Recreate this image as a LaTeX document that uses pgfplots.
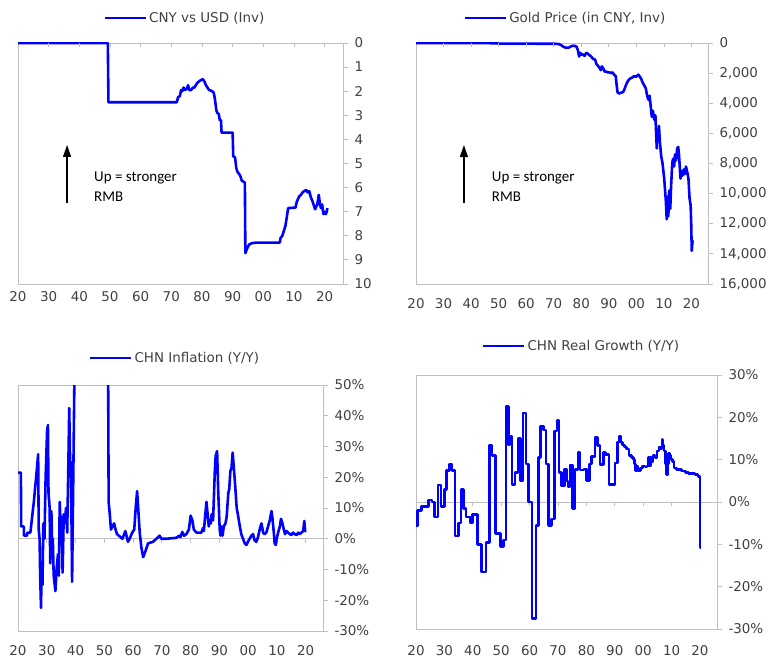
\documentclass[border=0pt]{standalone}
\usepackage{fontspec}
\setmainfont{DejaVu Sans}
\newfontfamily\calfont{Carlito}
\usepackage{pgfplots}
\pgfplotsset{compat=1.18}
\usetikzlibrary{arrows.meta}
\definecolor{txt}{HTML}{404040}
\definecolor{frm}{HTML}{BFBFBF}
\pgfplotsset{
  base/.style={
    scale only axis,
    anchor=south west,
    xmin=1920, xmax=2026,
    axis line style={frm, line width=0.8pt},
    xtick={1920,1930,...,2020},
    xticklabels={20,30,40,50,60,70,80,90,00,10,20},
    x tick style={draw=none},
    y tick style={frm, line width=0.8pt},
    ytick pos=right, yticklabel pos=right,
    tick align=outside,
    major tick length=5bp,
    scaled y ticks=false,
    ticklabel style={font=\fontsize{13.5}{16}\selectfont, text=txt},
    yticklabel style={xshift=3bp},
    legend style={draw=none, fill=none, font=\fontsize{13.5}{16}\selectfont, text=txt,
      at={(0.5,1)}, anchor=center},
    legend image code/.code={\draw[blue, line width=2.6pt] (0bp,0bp) -- (41bp,0bp);},
  },
  ser/.style={blue, line width=2.6pt, line join=round, mark=none},
}
\begin{document}
\begin{tikzpicture}
\path[use as bounding box] (0,0) rectangle (772bp,660bp);

% ---------------- Panel 1: CNY vs USD (Inv)
\begin{axis}[base, at={(18bp,376bp)}, width=325bp, height=241bp,
  ymin=0, ymax=10, y dir=reverse,
  ytick={0,1,...,10}, yticklabels={0,1,2,3,4,5,6,7,8,9,10},
  xticklabel style={yshift=1bp},
  legend style={yshift=25bp, xshift=4.5bp}]
\addplot[ser] coordinates {
(1920,0) (1949.3,0) (1949.5,2.46) (1971.8,2.46) (1972.2,2.25) (1972.8,2.2) (1973.2,1.95)
(1973.6,2.0) (1974.0,1.85) (1974.5,1.95) (1975,1.9) (1975.5,1.75) (1975.8,1.95) (1976.5,1.95)
(1977,1.85) (1977.5,1.85) (1978,1.75) (1978.5,1.65) (1979,1.6) (1979.5,1.55) (1980.3,1.5)
(1980.8,1.6) (1981.3,1.75) (1981.8,1.85) (1982.3,1.95) (1983,1.98) (1983.8,2.05) (1984.2,2.3)
(1984.7,2.8) (1985,2.9) (1985.5,2.95) (1985.8,3.2) (1986.2,3.2) (1986.4,3.72) (1990.0,3.72)
(1990.2,4.7) (1990.8,4.75) (1991.2,5.2) (1991.6,5.35) (1992.2,5.45) (1992.6,5.55) (1993.0,5.72)
(1993.5,5.75) (1994.0,5.8) (1994.15,8.72) (1994.5,8.6) (1995,8.45) (1995.5,8.35) (1996.5,8.3)
(1998,8.28) (2005.4,8.28) (2005.6,8.1) (2006.2,8.0) (2006.7,7.8) (2007.2,7.6) (2007.7,7.2)
(2008.1,6.85) (2010.5,6.83) (2010.9,6.6) (2011.4,6.45) (2011.8,6.35) (2012.3,6.3) (2012.8,6.2)
(2013.3,6.15) (2014.0,6.1) (2014.5,6.2) (2015.0,6.15) (2015.5,6.4) (2016.0,6.55) (2016.4,6.7)
(2016.9,6.9) (2017.2,6.8) (2017.6,6.7) (2018.1,6.3) (2018.5,6.7) (2018.8,6.85) (2019.2,6.7)
(2019.6,7.1) (2019.9,7.0) (2020.1,7.05) (2020.4,7.1) (2020.7,7.0) (2020.9,6.85)
};
\addlegendentry{CNY vs USD (Inv)}
\pgfplotsinvokeforeach{1930,1940,...,2020}{\draw[frm, line width=0.8pt] (axis cs:#1,0) -- (axis cs:#1,0.166);}
\draw[black, line width=1.2pt, -{Triangle[width=8bp,length=12bp]}] (axis cs:1936,6.64) -- (axis cs:1936,4.23);
\node[anchor=west, align=left, inner sep=0pt, font=\calfont\fontsize{15}{20}\selectfont] at (axis cs:1944.8,5.98) {Up = stronger\\RMB};
\end{axis}

% ---------------- Panel 2: Gold Price (in CNY, Inv)
\begin{axis}[base, at={(416bp,376bp)}, width=292bp, height=241bp,
  ymin=0, ymax=16000, y dir=reverse,
  ytick={0,2000,...,16000},
  yticklabels={0,{2,000},{4,000},{6,000},{8,000},{10,000},{12,000},{14,000},{16,000}},
  xticklabel style={yshift=-6bp},
  legend style={yshift=25bp, xshift=3.5bp}]
\addplot[ser] coordinates {
(1920,5) (1930,5) (1940,10) (1949,15) (1950,40) (1960,45) (1970,50) (1971.5,60) (1972.5,120)
(1973.5,250) (1974.5,320) (1975.5,300) (1976.5,200) (1977.5,180) (1978.3,250) (1978.8,500)
(1979.2,900) (1979.6,650) (1980.1,800) (1980.6,750) (1981.2,850) (1981.8,650) (1982.3,700)
(1982.9,800) (1983.6,900) (1984.2,1050) (1985.0,1100) (1985.5,1400) (1986.0,1500) (1986.6,1650)
(1987.1,1800) (1987.5,1550) (1988.0,1700) (1988.5,1900) (1989.0,1900) (1989.6,1950) (1990.3,1950)
(1990.7,2000) (1991.3,1950) (1991.9,2100) (1992.5,2200) (1992.9,2900) (1993.2,3300) (1993.8,3350)
(1994.5,3300) (1995.2,3250) (1995.6,3100) (1996.2,2800) (1996.7,2600) (1997.2,2450) (1997.8,2350)
(1998.4,2300) (1999.2,2200) (1999.8,2250) (2000.7,2100) (2001.3,2250) (2001.8,2400) (2002.2,2600)
(2002.8,2800) (2003.4,3000) (2003.8,3400) (2004.2,3700) (2004.6,3800) (2004.8,3500) (2005.2,4200)
(2005.6,4900) (2006.0,4500) (2006.5,5100) (2006.9,4800) (2007.4,7000) (2007.6,5800) (2007.9,6300)
(2008.2,5500) (2008.5,6500) (2009.0,7500) (2009.5,8000) (2010.1,9000) (2010.7,10500) (2011.0,11700)
(2011.3,10200) (2011.6,11500) (2011.9,9800) (2012.3,11000) (2012.6,9500) (2013.0,8000) (2013.3,7700)
(2013.7,8200) (2014.0,7400) (2014.4,7800) (2014.8,7000) (2015.2,6900) (2015.5,7500) (2016.0,9000)
(2016.4,8500) (2016.8,8800) (2017.2,8400) (2017.6,8700) (2018.0,8200) (2018.5,8600) (2018.9,9000)
(2019.3,10300) (2019.7,10800) (2019.9,12000) (2020.1,13800) (2020.4,13100)
};
\addlegendentry{Gold Price (in CNY, Inv)}
\pgfplotsinvokeforeach{1930,1940,...,2020}{\draw[frm, line width=0.8pt] (axis cs:#1,0) -- (axis cs:#1,265);}
\draw[black, line width=1.2pt, -{Triangle[width=8bp,length=12bp]}] (axis cs:1937.4,10622) -- (axis cs:1937.4,6772);
\node[anchor=west, align=left, inner sep=0pt, font=\calfont\fontsize{15}{20}\selectfont] at (axis cs:1947.5,9560) {Up = stronger\\RMB};
\end{axis}

% ---------------- Panel 3: CHN Inflation (Y/Y)
\begin{axis}[base, at={(18bp,29bp)}, width=305bp, height=246bp,
  ymin=-30, ymax=50, unbounded coords=jump,
  ytick={-30,-20,...,50},
  yticklabels={-30\%,-20\%,-10\%,0\%,10\%,20\%,30\%,40\%,50\%},
  xticklabel style={yshift=-6bp},
  legend style={yshift=27bp, xshift=4.5bp}]
\draw[frm, line width=0.8pt] (axis cs:1920,0) -- (axis cs:2026,0);
\pgfplotsinvokeforeach{1930,1940,...,2020}{\draw[frm, line width=0.8pt] (axis cs:#1,0) -- (axis cs:#1,-1.3);}
\addplot[ser] coordinates {
(1920,21.5) (1921,21.5) (1921.1,4) (1922,4) (1922.1,1) (1923.1,1) (1923.3,2) (1924.3,2)
(1925.5,12) (1926.5,22) (1927,27.5) (1927.2,3) (1927.5,0) (1927.7,-12) (1928,-22.5) (1928.2,-10)
(1928.5,-15) (1928.8,5) (1929.2,0) (1929.6,20) (1930.1,35) (1930.4,37) (1930.6,15) (1931,10)
(1931.2,-8) (1931.6,9) (1931.9,-3) (1932.1,0) (1932.4,-12) (1933,-17) (1933.4,-10) (1933.9,-5)
(1934.2,-12) (1934.5,12) (1934.8,5) (1935.2,7) (1935.5,-11) (1935.9,8) (1936.2,5) (1936.7,10)
(1937.1,2) (1937.6,30) (1937.8,42.5) (1938.2,20) (1938.4,25) (1938.8,-14) (1939.7,60)
(1945,nan)
(1951.3,60) (1951.5,12) (1951.9,8) (1952.3,3) (1952.8,4) (1953.4,5) (1953.9,3) (1954.4,1.5)
(1955.3,0.8) (1956.3,0) (1956.7,1) (1957.3,2.5) (1957.7,1) (1958.2,-1) (1958.8,0) (1959.7,2)
(1960.4,3) (1960.9,10) (1961.4,15.5) (1961.7,11) (1962.3,2) (1962.9,-3) (1963.5,-6) (1964.3,-4)
(1965.2,-1.5) (1966.9,-1) (1968.1,0) (1969.2,1) (1969.8,0) (1971.6,0) (1975,0.3) (1976,1)
(1976.4,0.5) (1977.1,2.2) (1977.7,1) (1978.5,1.5) (1979.4,3) (1980,7.5) (1980.6,6) (1981.1,3)
(1982,2) (1983.7,2) (1984.3,3.5) (1984.6,2.5) (1985.1,8) (1985.5,12) (1985.8,9) (1986.3,4)
(1986.6,6) (1987,5) (1987.3,8) (1987.8,6) (1988.4,22) (1988.7,27) (1989.2,28.5) (1989.6,15)
(1990.1,3) (1990.4,1) (1990.8,4) (1991.1,1) (1991.5,4) (1992.1,5) (1992.5,7) (1993.1,15)
(1993.4,16) (1993.8,22) (1994.2,23) (1994.6,28) (1995.1,22) (1995.5,17) (1996,10) (1996.4,8)
(1997.1,4) (1997.6,1.5) (1998.2,0) (1998.8,-1.5) (1999.4,-2) (1999.9,-1) (2000.5,0) (2001.1,1)
(2001.7,1.5) (2002.2,-0.5) (2002.8,-1) (2003.4,0.5) (2004,3) (2004.6,5) (2005.2,2) (2005.7,1.5)
(2006.3,2) (2006.9,4) (2007.5,6) (2008.1,9) (2008.4,7) (2008.9,2) (2009.2,-1.5) (2009.6,-2)
(2009.9,0) (2010.4,2) (2011,4) (2011.4,6.5) (2011.9,5) (2012.4,3) (2012.8,1.5) (2013.3,2.5)
(2013.9,2) (2014.5,1.5) (2015,1.2) (2015.6,2) (2016.2,1.5) (2016.8,1.2) (2017.4,2) (2017.9,1.5)
(2018.5,2) (2019.1,2.5) (2019.5,5.8) (2019.8,2.5) (2020.2,2.5)
};
\addlegendentry{CHN Inflation (Y/Y)}
\end{axis}

% ---------------- Panel 4: CHN Real Growth (Y/Y)
\begin{axis}[base, at={(416bp,31bp)}, width=301bp, height=254bp,
  ymin=-30, ymax=30,
  ytick={-30,-20,...,30},
  yticklabels={-30\%,-20\%,-10\%,0\%,10\%,20\%,30\%},
  xticklabel style={yshift=-8bp},
  legend style={yshift=29bp, xshift=15bp}]
\draw[frm, line width=0.8pt] (axis cs:1920,0) -- (axis cs:2026,0);
\pgfplotsinvokeforeach{1930,1940,...,2020}{\draw[frm, line width=0.8pt] (axis cs:#1,0) -- (axis cs:#1,-0.94);}
\addplot[ser, const plot] coordinates {
(1920,-5.7) (1920.6,-2) (1921.9,-1) (1924.5,0.5) (1925.6,0) (1926.6,-3.5) (1927.7,4) (1928.8,-1)
(1930,3) (1930.8,7.5) (1931.8,9) (1932.7,7.5) (1933.7,-8) (1934.9,-5) (1935.9,3) (1936.8,-1.5)
(1937.6,-3.5) (1939.1,-5) (1939.9,-3) (1941.7,-10) (1943,-16.5) (1944.7,-9.5) (1945.9,13.5)
(1946.7,11) (1947.9,-7.5) (1949.7,-10.5) (1950.8,-9) (1951.7,22.5) (1952.6,13.5) (1952.9,15.5)
(1953.8,4.2) (1954.9,7) (1955.9,15) (1956.7,5) (1957.7,21) (1958.7,9) (1959.6,0) (1960.8,-27.5)
(1962.2,-5.5) (1963.1,10.5) (1963.8,18) (1964.9,17) (1965.8,9) (1966.7,-5.5) (1967.8,-4)
(1968.8,16.8) (1969.6,19.3) (1970.4,7) (1971.3,3.8) (1972.2,7.8) (1973.1,5) (1973.5,3.5)
(1974.3,8.7) (1975.2,-1.5) (1976,7.7) (1977,11.7) (1977.8,7.6) (1979.2,7.8) (1980,5.1)
(1981,9) (1981.9,10.8) (1983.1,15.2) (1984,13.4) (1984.8,8.9) (1986,11.7) (1986.8,11.2)
(1988,4.1) (1990.1,9.2) (1990.9,14.2) (1991.6,15.6) (1992.2,14) (1992.8,13.5) (1993.5,13)
(1994.2,12.5) (1995,11) (1995.8,10.5) (1996.5,10) (1997,9) (1997.4,7.5) (1997.8,8.5)
(1998.2,7.5) (1999,8) (1999.8,8.5) (2000.6,8.3) (2001.3,8.5) (2001.9,10.5) (2002.2,8.5)
(2002.5,10.5) (2003,9.5) (2003.5,11) (2004.2,10.5) (2004.8,12) (2005.5,13) (2006,12.5)
(2006.6,14.8) (2006.9,13.5) (2007.4,12) (2007.9,9) (2008.3,6.5) (2008.7,9) (2009.0,11.5)
(2009.4,11) (2009.8,10) (2010.3,9.5) (2010.8,8) (2011.8,7.7) (2013.5,7.3) (2014.8,7)
(2016,6.8) (2017.2,6.8) (2018.3,6.5) (2019.3,6) (2020.0,-10.8) (2020.1,-10.8)
};
\addlegendentry{CHN Real Growth (Y/Y)}
\end{axis}
\end{tikzpicture}
\end{document}
